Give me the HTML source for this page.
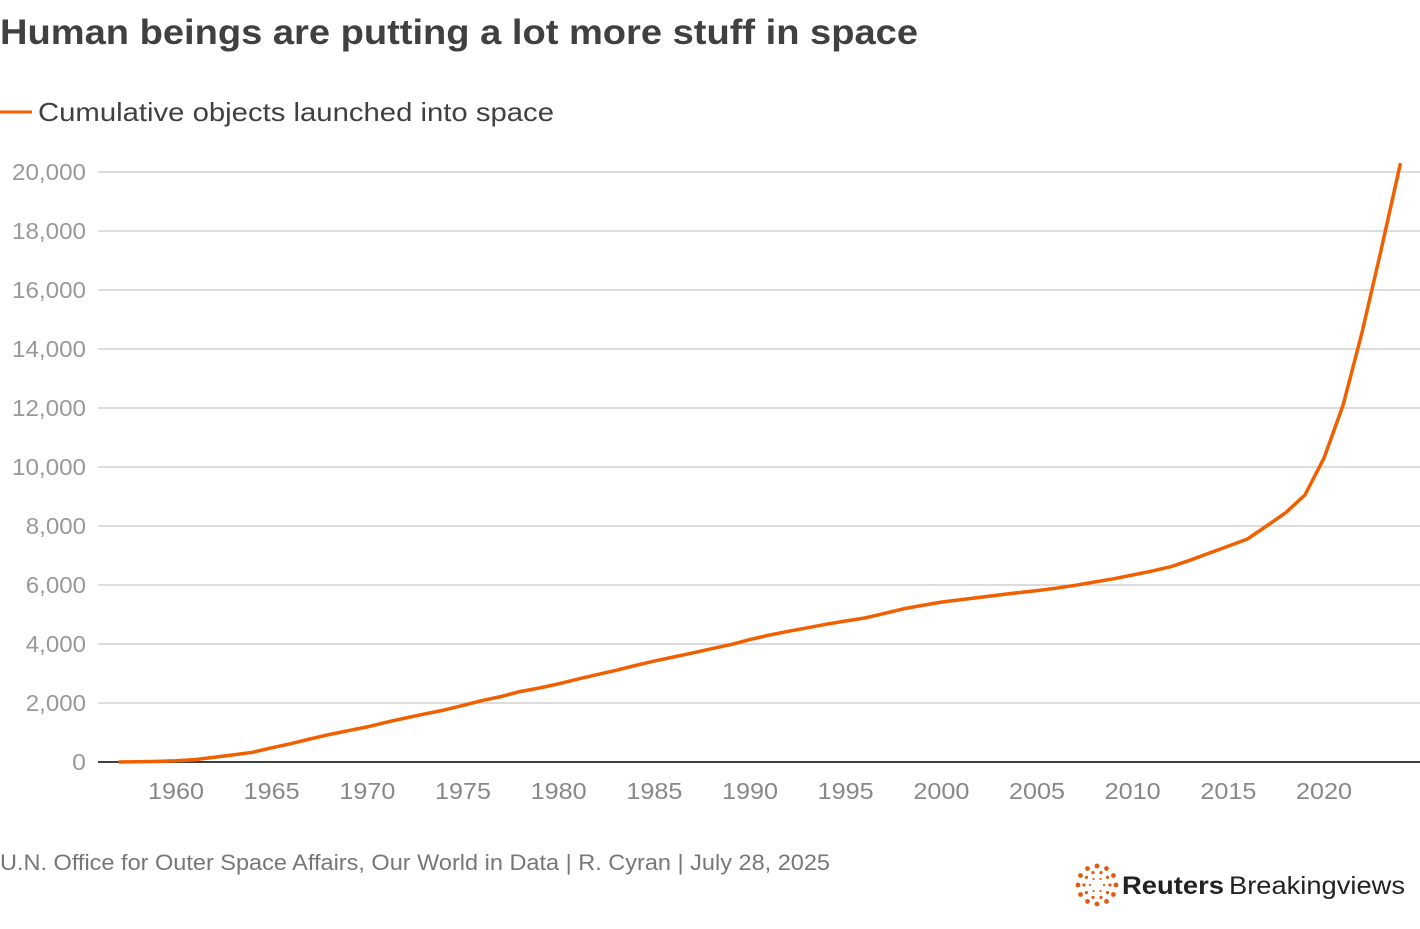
<!DOCTYPE html>
<html><head><meta charset="utf-8"><style>
body{margin:0;background:#fff;width:1420px;height:924px;overflow:hidden;font-family:"Liberation Sans",sans-serif}
</style></head><body>
<svg width="1420" height="924" id="svg" xmlns="http://www.w3.org/2000/svg">
<text x="0" y="44" font-size="35" font-weight="bold" fill="#404040" textLength="918" lengthAdjust="spacingAndGlyphs">Human beings are putting a lot more stuff in space</text>
<line x1="0" y1="112" x2="32" y2="112" stroke="#f06000" stroke-width="3"/>
<text x="38" y="121" font-size="26" fill="#404040" textLength="516" lengthAdjust="spacingAndGlyphs">Cumulative objects launched into space</text>
<g id="grid"></g><g id="yl"></g><g id="xl"></g>
<line x1="98" y1="762" x2="1420" y2="762" stroke="#404040" stroke-width="2"/>
<path id="line" fill="none" stroke="#f06000" stroke-width="3.5" stroke-linejoin="round"/>
<text x="0" y="870" font-size="22" fill="#777" textLength="830" lengthAdjust="spacingAndGlyphs">U.N. Office for Outer Space Affairs, Our World in Data | R. Cyran | July 28, 2025</text>
<g>
<g id="dots"></g>
<text x="1122" y="894" font-size="25" font-weight="bold" fill="#222" textLength="102" lengthAdjust="spacingAndGlyphs">Reuters</text>
<text x="1229" y="894" font-size="25" fill="#222" textLength="176" lengthAdjust="spacingAndGlyphs">Breakingviews</text>
</g>
</svg>
<script>
const years=[1957,1958,1959,1960,1961,1962,1963,1964,1965,1966,1967,1968,1969,1970,1971,1972,1973,1974,1975,1976,1977,1978,1979,1980,1981,1982,1983,1984,1985,1986,1987,1988,1989,1990,1991,1992,1993,1994,1995,1996,1997,1998,1999,2000,2001,2002,2003,2004,2005,2006,2007,2008,2009,2010,2011,2012,2013,2014,2015,2016,2017,2018,2019,2020,2021,2022,2023,2024];
const objects=[0,10,20,40,80,160,240,330,480,620,780,930,1060,1190,1350,1490,1630,1760,1920,2080,2220,2390,2510,2650,2810,2960,3110,3270,3420,3560,3700,3840,3980,4150,4300,4430,4550,4670,4780,4880,5030,5190,5310,5420,5500,5580,5660,5740,5810,5890,5990,6100,6210,6340,6470,6620,6840,7080,7320,7560,8000,8450,9050,10300,12100,14600,17400,20300];
const yTicks=[0,2000,4000,6000,8000,10000,12000,14000,16000,18000,20000];
const xTicks=[1960,1965,1970,1975,1980,1985,1990,1995,2000,2005,2010,2015,2020];
const NS="http://www.w3.org/2000/svg";
const xS=y=>176+(y-1960)*(1324-176)/60;
const yS=v=>762-v*590/20000;
function mk(t,a,p){const e=document.createElementNS(NS,t);for(const k in a)e.setAttribute(k,a[k]);p.appendChild(e);return e;}
const grid=document.getElementById('grid'),yl=document.getElementById('yl'),xl=document.getElementById('xl');
yTicks.forEach(v=>{
 if(v>0){const l=mk('line',{x1:98,x2:1420,y1:yS(v),y2:yS(v),stroke:'#c8c8c8','stroke-width':1.2},grid);
 
 }
 const s=v.toLocaleString('en-US');
 const t=mk('text',{x:86,y:yS(v)+8,'font-size':23,fill:'#999','text-anchor':'end',textLength:s.replace(',','').length*13.8+(s.includes(',')?5:0),lengthAdjust:'spacingAndGlyphs'},yl);t.textContent=s;
 
 
});
xTicks.forEach(y=>{
 const t=mk('text',{x:xS(y)-28,y:799,'font-size':23,fill:'#888',textLength:56,lengthAdjust:'spacingAndGlyphs'},xl);t.textContent=y;
 
 
});
document.getElementById('line').setAttribute('d',years.map((y,i)=>(i?'L':'M')+xS(y).toFixed(1)+','+yS(objects[i]).toFixed(1)).join(''));
const dots=document.getElementById('dots');
[[19,2.4,12],[13,1.6,10],[7,1.1,6]].forEach(([r,s,n])=>{for(let i=0;i<n;i++){const a=i/n*2*Math.PI;mk('circle',{cx:1097+r*Math.cos(a),cy:885+r*Math.sin(a),r:s,fill:'#e05a10'},dots);}});
</script>
</body></html>
